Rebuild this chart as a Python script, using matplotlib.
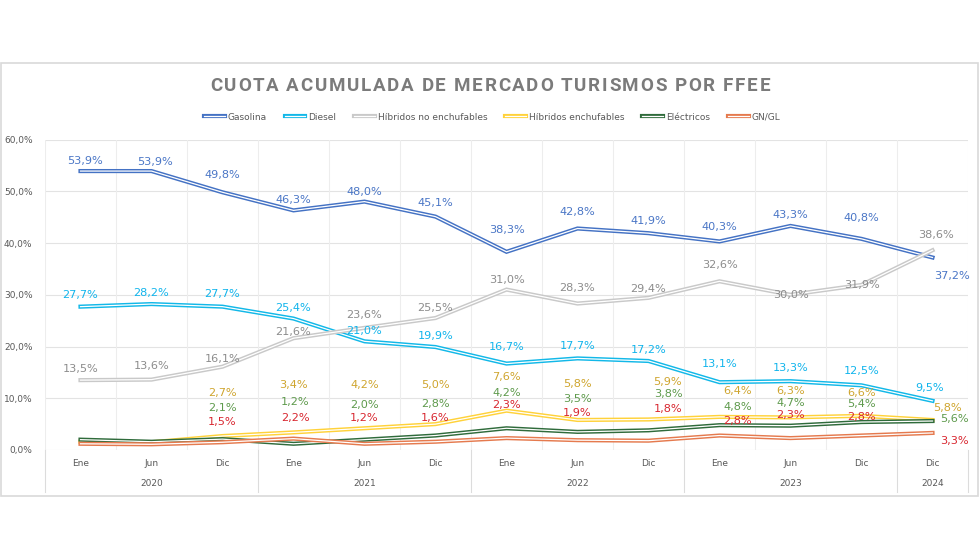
import matplotlib
matplotlib.use("Agg")
import matplotlib.pyplot as plt
import matplotlib.patheffects as pe
from matplotlib.font_manager import FontProperties
from matplotlib.patches import Rectangle
import numpy as np

# ---------------- data ----------------
months = ["Ene", "Jun", "Dic", "Ene", "Jun", "Dic", "Ene", "Jun", "Dic", "Ene", "Jun", "Dic", "Dic"]
years = ["2020", "2021", "2022", "2023", "2024"]
year_groups = [(0, 2), (3, 5), (6, 8), (9, 11), (12, 12)]

gasolina = [53.9, 53.9, 49.8, 46.3, 48.0, 45.1, 38.3, 42.8, 41.9, 40.3, 43.3, 40.8, 37.2]
diesel = [27.7, 28.2, 27.7, 25.4, 21.0, 19.9, 16.7, 17.7, 17.2, 13.1, 13.3, 12.5, 9.5]
hev = [13.5, 13.6, 16.1, 21.6, 23.6, 25.5, 31.0, 28.3, 29.4, 32.6, 30.0, 31.9, 38.6]
phev = [1.6, 1.5, 2.7, 3.4, 4.2, 5.0, 7.6, 5.8, 5.9, 6.4, 6.3, 6.6, 5.8]
bev = [2.0, 1.6, 2.1, 1.2, 2.0, 2.8, 4.2, 3.5, 3.8, 4.8, 4.7, 5.4, 5.6]
gngl = [1.2, 1.1, 1.5, 2.2, 1.2, 1.6, 2.3, 1.9, 1.8, 2.8, 2.3, 2.8, 3.3]

# which points carry a data label
phev_lab = [False, False] + [True] * 11
bev_lab = [False, False] + [True] * 11
gngl_lab = [False, False] + [True] * 11

# ---------------- label placement (pixels, dx, dy) ----------------
off_gas = [(4, 10), (3, 9), (0, 17), (0, 10), (0, 10), (0, 14), (0, 22), (0, 17), (0, 12),
           (0, 14), (0, 11), (0, 21), (19, -19)]
off_die = [(0, 12), (0, 11), (0, 13), (0, 11), (0, 10), (0, 11), (0, 17), (0, 12), (0, 11),
           (0, 18), (0, 13), (0, 14), (-3, 13)]
off_hev = [(0, 11), (0, 14), (0, 8), (0, 6), (0, 13), (0, 10), (0, 10), (0, 16), (0, 9),
           (0, 16), (0, 0), (0, 0), (3, 15)]
off_phev = [(0, 0), (0, 0), (0, 43), (0, 47), (0, 43), (0, 39), (0, 34), (0, 36), (19, 37),
            (18, 26), (0, 26), (0, 23), (15, 12)]
off_bev = [(0, 0), (0, 0), (0, 31), (2, 42), (0, 35), (0, 32), (0, 35), (0, 33), (20, 36),
           (18, 18), (0, 23), (0, 18), (22, 2)]
off_gngl = [(0, 0), (0, 0), (0, 20), (2, 21), (0, 26), (0, 24), (0, 33), (0, 27), (20, 32),
            (18, 15), (0, 23), (0, 19), (22, -8)]

series = [
    ("Gasolina", gasolina, "#4472C4", "#4A76C6", None, off_gas),
    ("Diesel", diesel, "#12B8E8", "#10B4EC", None, off_die),
    ("Híbridos no enchufables", hev, "#C9C9C9", "#8C8C8C", None, off_hev),
    ("Híbridos enchufables", phev, "#FFD23A", "#CFA52E", phev_lab, off_phev),
    ("Eléctricos", bev, "#2F6B3B", "#5E9A4C", bev_lab, off_bev),
    ("GN/GL", gngl, "#E57A4E", "#D8262F", gngl_lab, off_gngl),
]

W, H = 980, 560
fig = plt.figure(figsize=(9.8, 5.6), dpi=100)
fig.patch.set_facecolor("white")

# outer border
fig.patches.append(Rectangle((1 / W, 1 - 496 / H), 977 / W, (496 - 63) / H,
                             transform=fig.transFigure, fill=False,
                             edgecolor="#D9D9D9", linewidth=1.2))

ax = fig.add_axes([45 / W, 1 - 450 / H, (968 - 45) / W, (450 - 139.5) / H])
x = np.arange(len(months))
ax.set_xlim(-0.5, len(months) - 0.5)
ax.set_ylim(0, 60)
for s in ax.spines.values():
    s.set_visible(False)

ax.set_yticks(np.arange(0, 61, 10))
ax.set_yticklabels([f"{v:.1f}%".replace(".", ",") for v in np.arange(0, 61, 10)],
                   fontsize=6.5, color="#595959")
ax.tick_params(axis="y", length=0, pad=9)
ax.tick_params(axis="x", length=0)
ax.set_xticks([])
ax.grid(False)
for v in np.arange(0, 61, 10):
    ax.axhline(v, color="#E3E3E3", lw=0.8, zorder=0)
for b in np.arange(-0.5, len(months), 1.0):
    ax.axvline(b, color="#EDEDED", lw=0.8, zorder=0)

# category + year labels
trans = ax.get_xaxis_transform()
for i, m in enumerate(months):
    ax.text(i, -14 / 310.5, m, transform=trans, ha="center", va="center",
            fontsize=6.5, color="#595959")
for yr, (a, b) in zip(years, year_groups):
    ax.text((a + b) / 2, -33 / 310.5, yr, transform=trans, ha="center", va="center",
            fontsize=6.5, color="#595959")
for b in [-0.5, 2.5, 5.5, 8.5, 11.5, 12.5]:
    ax.plot([b, b], [0, -42 / 310.5], transform=trans, color="#DCDCDC", lw=0.8,
            clip_on=False)

# lines and labels
for name, vals, lc, tc, labmask, offs in series:
    ax.plot(x, vals, color="white", lw=0.9, solid_joinstyle="miter",
            path_effects=[pe.Stroke(linewidth=3.0, foreground=lc), pe.Normal()],
            label=name, zorder=3)
    for i, v in enumerate(vals):
        if labmask is not None and not labmask[i]:
            continue
        dx, dy = offs[i]
        ax.annotate(f"{v:.1f}%".replace(".", ","), (i, v), xytext=(dx, dy),
                    textcoords="offset pixels", ha="center", va="center",
                    fontsize=8.1, color=tc, zorder=4)

# legend
leg = fig.legend(loc="center", bbox_to_anchor=(492 / W, 1 - 117 / H), ncol=6,
                 frameon=False, fontsize=6.5, handlelength=2.3, columnspacing=2.0,
                 handletextpad=0.3, labelcolor="#595959")

# title with letter spacing
title = "CUOTA ACUMULADA DE MERCADO TURISMOS POR FFEE"
fp = FontProperties(family="Roboto", weight="bold", size=13.5)
fig.canvas.draw()
r = fig.canvas.get_renderer()
def tw(s):
    return r.get_text_width_height_descent(s, fp, ismath=False)[0]
wX = tw("X")
natural = tw(title)
target = 560.0
track = (target - natural) / (len(title) - 1)
x0 = 490 - target / 2
for i, ch in enumerate(title):
    if ch == " ":
        continue
    pos = tw(title[:i] + "X") - wX if i > 0 else 0.0
    fig.text((x0 + pos + i * track) / W, 1 - 86 / H, ch, fontproperties=fp,
             color="#7B7B7B", ha="left", va="center")

fig.savefig("out.png", dpi=100, facecolor="white")
